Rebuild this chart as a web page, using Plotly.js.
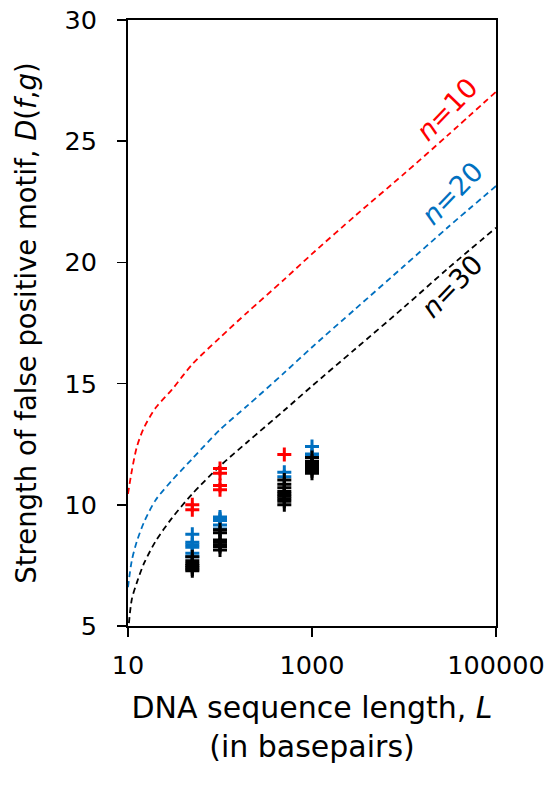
<!DOCTYPE html>
<html>
<head>
<meta charset="utf-8">
<script src="https://cdn.plot.ly/plotly-3.0.1.min.js"></script>
<style>html,body{margin:0;padding:0;background:#fff;}#chart{width:551px;height:785px;}</style>
</head>
<body>
<div id="chart"></div>
<script>
// Theoretical curves
const curveX = [10, 11, 12.5, 15, 20, 30, 50, 100, 200, 500, 1000, 3000, 10000, 30000, 100000];
const curveN10 = [10.45, 11.4, 12.4, 13.2, 14.0, 14.75, 15.8, 16.9, 17.95, 19.3, 20.35, 21.95, 23.65, 25.25, 27.04];
const curveN20 = [6.6, 7.7, 8.5, 9.3, 10.2, 11.0, 11.9, 13.1, 14.1, 15.45, 16.5, 18.1, 19.85, 21.45, 23.15];
const curveN30 = [4.7, 6.1, 6.8, 7.6, 8.5, 9.45, 10.45, 11.6, 12.6, 13.9, 14.9, 16.45, 18.15, 19.75, 21.43];

// Observed points
const redX = [50, 50, 100, 100, 100, 100, 500];
const redY = [10.0, 9.8, 11.5, 11.3, 10.8, 10.62, 12.08];
const blueX = [50, 50, 50, 50, 50, 50, 100, 100, 100, 100, 100, 500, 500, 1000, 1000, 1000];
const blueY = [8.78, 8.45, 8.35, 8.25, 8.0, 7.86, 9.5, 9.42, 9.35, 9.17, 9.0, 11.34, 11.16, 12.4, 12.1, 12.0];
const blackX = [50, 50, 50, 50, 50, 50, 50,
                100, 100, 100, 100, 100, 100, 100,
                500, 500, 500, 500, 500, 500, 500, 500, 500,
                1000, 1000, 1000, 1000, 1000, 1000, 1000];
const blackY = [7.86, 7.69, 7.58, 7.5, 7.42, 7.35, 7.28,
                8.97, 8.85, 8.55, 8.45, 8.35, 8.28, 8.14,
                11.02, 10.85, 10.7, 10.55, 10.45, 10.35, 10.25, 10.15, 10.0,
                11.95, 11.8, 11.7, 11.6, 11.5, 11.4, 11.3];

const xTickVals = [10, 1000, 100000];
const xTickText = ['10', '1000', '100000'];
const yTickVals = [5, 10, 15, 20, 25, 30];

const RED = '#FF0000', BLUE = '#0070C0', BLACK = '#000000';
const FONT = 'DejaVu Sans, Liberation Sans, Arial, sans-serif';

function curve(y, color, name) {
  return {x: curveX, y: y, type: 'scatter', mode: 'lines', name: name,
          line: {color: color, width: 1.8, dash: '6px,4px', shape: 'spline', smoothing: 0.8}, hoverinfo: 'skip'};
}
function pts(x, y, color, name) {
  return {x: x, y: y, type: 'scatter', mode: 'markers', name: name,
          marker: {symbol: 'cross-thin', size: 10, color: color, line: {color: color, width: 3}}};
}

const data = [
  curve(curveN10, RED, 'n=10 bound'),
  curve(curveN20, BLUE, 'n=20 bound'),
  curve(curveN30, BLACK, 'n=30 bound'),
  pts(redX, redY, RED, 'n=10'),
  pts(blueX, blueY, BLUE, 'n=20'),
  pts(blackX, blackY, BLACK, 'n=30')
];

const layout = {
  width: 551, height: 785,
  margin: {l: 128, r: 55, t: 20, b: 159},
  paper_bgcolor: '#fff', plot_bgcolor: '#fff',
  showlegend: false,
  font: {family: FONT, color: '#000'},
  xaxis: {
    type: 'log', range: [1, 5],
    tickvals: xTickVals, ticktext: xTickText,
    ticks: 'outside', ticklen: 9, tickwidth: 1.5, tickcolor: '#000',
    showline: true, linecolor: '#000', linewidth: 2, mirror: true,
    showgrid: false, zeroline: false, automargin: false,
    tickfont: {family: FONT, size: 25.5, color: '#000'},
    ticklabelstandoff: 6,
    title: {text: 'DNA sequence length, <i>L</i><br>(in basepairs)',
            font: {family: FONT, size: 30, color: '#000'}, standoff: 18}
  },
  yaxis: {
    range: [5, 30], tickvals: yTickVals,
    ticks: 'outside', ticklen: 9, tickwidth: 1.5, tickcolor: '#000',
    showline: true, linecolor: '#000', linewidth: 2, mirror: true,
    showgrid: false, zeroline: false, automargin: false,
    tickfont: {family: FONT, size: 25.5, color: '#000'},
    ticklabelstandoff: 15,
    title: {text: 'Strength of false positive motif, <i>D</i>(<i>f</i>,<i>g</i>)',
            font: {family: FONT, size: 27.5, color: '#000'}, standoff: 20}
  },
  annotations: [
    {x: Math.log10(29100), y: 26.3, xref: 'x', yref: 'y', text: '<i>n</i>=10', showarrow: false,
     textangle: -46, font: {family: FONT, size: 27, color: RED}},
    {x: Math.log10(33000), y: 22.85, xref: 'x', yref: 'y', text: '<i>n</i>=20', showarrow: false,
     textangle: -46, font: {family: FONT, size: 27, color: BLUE}},
    {x: Math.log10(33000), y: 19.0, xref: 'x', yref: 'y', text: '<i>n</i>=30', showarrow: false,
     textangle: -46, font: {family: FONT, size: 27, color: BLACK}}
  ]
};

Plotly.newPlot('chart', data, layout, {staticPlot: true, displayModeBar: false});
</script>
</body>
</html>
